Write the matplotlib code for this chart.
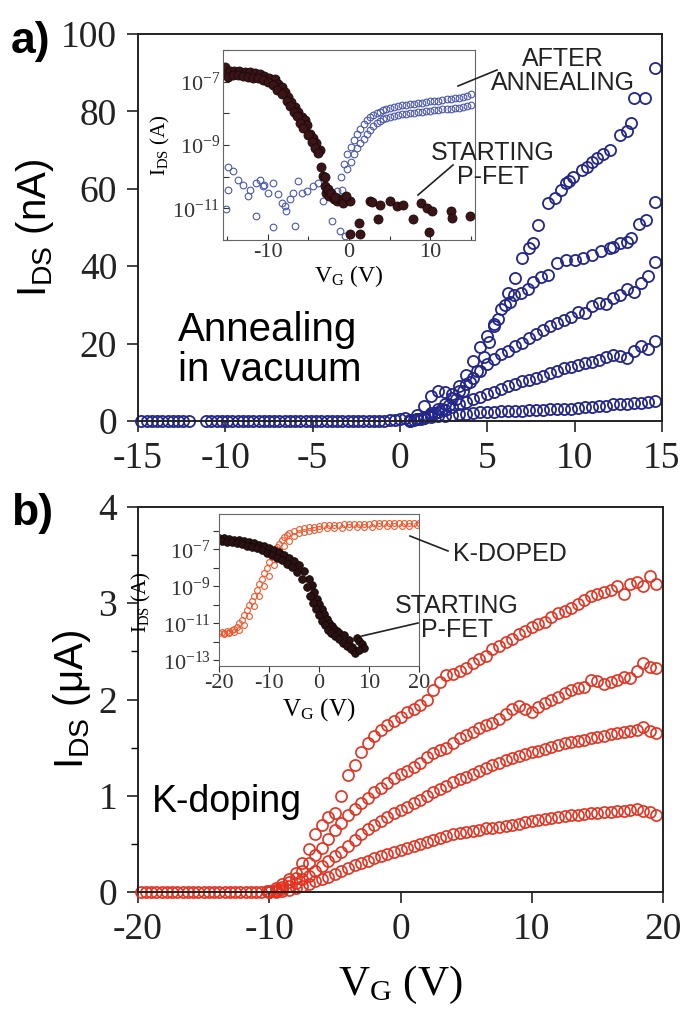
"""
Two-panel FET transfer curves (annealing / K-doping) with log-scale insets -> out.png
"""
import numpy as np
import matplotlib
matplotlib.use("Agg")
import matplotlib.pyplot as plt
from matplotlib.ticker import FixedLocator, FuncFormatter, NullFormatter
from matplotlib.lines import Line2D

plt.rcParams["font.family"] = ["Liberation Serif", "DejaVu Serif"]
plt.rcParams["mathtext.fontset"] = "custom"
plt.rcParams["mathtext.rm"] = "Liberation Serif"
plt.rcParams["axes.unicode_minus"] = False

SANS = ["Liberation Sans", "DejaVu Sans"]
W, H = 684, 1013

# ── Panel a: annealing in vacuum (nA) ────────────────────────────────────────
VA_OFF = [-14.8, -14.5, -14.2, -13.9, -13.6, -13.3, -13.0, -12.7, -12.4, -12.1,
          -11.1, -10.8, -10.5, -10.2, -9.9, -9.6, -9.3, -9.0, -8.7, -8.4,
          -8.1, -7.8, -7.5, -7.2, -6.9, -6.6, -6.3, -6.0, -5.7, -5.4,
          -5.1, -4.8, -4.5, -4.2, -3.9, -3.6, -3.3, -3.0, -2.7, -2.4,
          -2.1, -1.8, -1.5, -1.2, -0.9, -0.6, -0.3, 0.0, 0.3]
IA_OFF = [0.0, 0.1, 0.0, 0.0, 0.1, 0.0, 0.0, 0.1, 0.0, 0.0,
          0.0, 0.0, 0.1, 0.0, 0.0, 0.0, 0.1, 0.0, 0.0, 0.0,
          0.1, 0.0, 0.0, 0.0, 0.0, 0.1, 0.0, 0.0, 0.0, 0.1,
          0.0, 0.0, 0.0, 0.1, 0.0, 0.0, 0.0, 0.0, 0.1, 0.0,
          0.0, 0.1, 0.0, 0.0, 0.1, 0.2, 0.3, 0.5, 0.8]

VA1 = [0.6, 1.0, 1.4, 1.8, 2.2, 2.6, 3.0, 3.4, 3.8, 4.2,
       4.6, 5.0, 5.4, 5.8, 6.2, 6.6, 7.0, 7.4, 7.6, 7.9,
       8.5, 8.9, 9.2, 9.5, 9.7, 9.9, 10.4, 10.7, 11.0, 11.3,
       11.6, 12.0, 12.6, 13.0, 13.2, 13.4, 14.0, 14.6]
IA1 = [0.3, 1.5, 4.0, 6.5, 7.8, 7.5, 7.0, 9.0, 12.0, 15.5,
       19.0, 22.0, 25.0, 29.0, 33.0, 37.0, 42.0, 44.7, 46.0, 50.6,
       56.3, 57.6, 59.7, 61.5, 62.0, 63.0, 64.8, 65.6, 67.0, 68.0,
       69.0, 70.0, 74.0, 75.0, 77.0, 83.5, 83.5, 91.2]

VA2 = [0.8, 1.2, 1.6, 2.0, 2.4, 2.8, 3.2, 3.6, 4.0, 4.4,
       4.8, 5.1, 5.4, 5.6, 6.0, 6.3, 6.5, 6.9, 7.3, 7.6,
       8.1, 8.5, 9.0, 9.5, 10.0, 10.5, 11.0, 11.5, 12.0, 12.2,
       12.6, 13.0, 13.2, 13.7, 14.1, 14.6]
IA2 = [0.2, 0.6, 1.2, 2.0, 3.0, 4.2, 5.8, 7.8, 10.0, 13.0,
       16.5, 20.5, 24.6, 26.4, 29.9, 30.7, 32.5, 33.0, 34.0, 36.0,
       37.3, 37.7, 40.8, 41.6, 41.6, 42.0, 43.0, 44.0, 44.7, 45.0,
       46.0, 46.3, 47.3, 51.0, 52.0, 56.6]

VA_GRID = [0.6, 1.0, 1.4, 1.8, 2.2, 2.6, 3.0, 3.4, 3.8, 4.2,
           4.6, 5.0, 5.4, 5.8, 6.2, 6.6, 7.0, 7.4, 7.8, 8.2,
           8.6, 9.0, 9.4, 9.8, 10.2, 10.6, 11.0, 11.4, 11.8, 12.2,
           12.6, 13.0, 13.4, 13.8, 14.2, 14.6]
IA3 = [0.1, 0.4, 1.0, 2.0, 3.2, 4.5, 6.0, 7.8, 9.6, 11.2,
       13.0, 14.6, 16.0, 17.2, 18.2, 19.4, 20.2, 21.5, 22.4, 23.5,
       24.6, 25.4, 26.0, 27.0, 28.2, 28.0, 29.6, 30.5, 30.2, 31.8,
       32.6, 34.0, 33.4, 35.6, 37.5, 41.0]
IA4 = [0.1, 0.4, 0.9, 1.5, 2.2, 2.9, 3.6, 4.3, 5.0, 5.6,
       6.3, 7.0, 7.6, 8.3, 9.0, 9.6, 10.3, 10.6, 11.2, 11.6,
       12.3, 12.8, 13.6, 14.0, 14.4, 15.0, 15.3, 15.7, 16.5, 17.0,
       16.8, 16.4, 18.0, 19.4, 18.6, 20.8]
IA5 = [0.2, 0.5, 0.8, 1.0, 1.2, 1.4, 1.5, 1.7, 1.8, 2.0,
       2.2, 2.3, 2.4, 2.5, 2.5, 2.7, 2.7, 2.8, 2.9, 2.9,
       3.0, 3.1, 3.2, 3.2, 3.4, 3.5, 3.6, 3.8, 4.0, 4.3,
       4.4, 4.5, 4.6, 4.7, 4.8, 5.2]

# inset a (log10 of I in A)
PA_V = [-15.3, -15.1, -14.7, -14.1, -13.5, -12.8, -12.2, -11.6, -11.0, -10.4,
        -9.8, -9.1, -8.7, -8.3, -7.9, -7.5, -7.1, -6.7, -6.3, -5.8,
        -5.4, -5.2, -4.8, -4.4, -4.0, -3.6, -3.4, -3.2, -3.0, -2.8,
        -2.4, -1.9, -1.5, -1.1, -0.7, 0.1, 0.1, 1.2, 1.4, 2.6,
        2.8, 3.6, 3.8, 5.1, 5.9, 6.7, 7.9, 8.8, 9.6, 9.9,
        10.2, 12.5, 12.7, 14.9,
        -14.9, -14.3, -13.7, -13.0, -12.4, -11.8, -11.2, -10.6, -10.0, -9.4,
        -8.8, -8.2, -7.6, -7.2, -6.8, -6.4, -6.0, -5.6, -5.0, -4.6,
        -4.2, -3.8, -3.0, -2.6, -2.2, -1.7, -0.4]
PA_LOG = [-6.55, -6.76, -6.66, -6.66, -6.66, -6.71, -6.71, -6.74, -6.76, -6.81,
          -6.87, -6.92, -7.07, -7.18, -7.33, -7.49, -7.65, -7.80, -7.96, -8.12,
          -8.22, -8.38, -8.64, -8.79, -8.95, -9.16, -9.68, -9.99, -10.30, -10.51,
          -10.62, -10.72, -10.77, -10.72, -10.82, -10.77, -11.81, -11.45, -11.81, -10.77,
          -10.80, -11.34, -10.88, -10.77, -10.93, -10.88, -11.34, -10.82, -10.98, -11.76,
          -11.08, -11.08, -11.29, -11.24,
          -6.85, -6.80, -6.80, -6.82, -6.85, -6.88, -6.90, -6.95, -7.00, -7.10,
          -7.25, -7.40, -7.60, -7.78, -7.95, -8.10, -8.30, -8.45, -8.70, -8.90,
          -9.10, -9.25, -10.00, -10.40, -10.50, -10.65, -10.60]

AA_V = [-14.9, -14.3, -13.7, -13.1, -12.4, -14.9, -15.1, -12.2, -11.4, -11.0,
        -10.6, -10.4, -10.0, -9.3, -8.7, -8.3, -7.9, -7.7, -7.3, -6.9,
        -6.3, -5.8, -5.2, -4.4, -3.8, -3.2, -2.4, -1.5, -0.9, -11.4,
        -9.3, -6.7, -2.1, -1.1, -0.5,
        -1.0, -0.6, -0.2, 0.2, 0.6, 1.0, 1.4, 1.8, 2.2, 2.6,
        3.0, 3.4, 3.8, 4.2, 4.6, 5.0, 5.5, 6.0, 6.5, 7.0,
        7.5, 8.0, 8.5, 9.0, 9.5, 10.0, 10.5, 11.0, 11.5, 12.0,
        12.5, 13.0, 13.5, 14.0, 14.5, 15.0,
        -0.2, 0.2, 0.6, 1.0, 1.4, 1.8, 2.2, 2.6, 3.0, 3.4,
        3.8, 4.2, 4.6, 5.0, 5.5, 6.0, 6.5, 7.0, 7.5, 8.0,
        8.5, 9.0, 9.5, 10.0, 10.5, 11.0, 11.5, 12.0, 12.5, 13.0,
        13.5, 14.0, 14.5, 15.0]
AA_LOG = [-9.68, -9.83, -10.09, -10.25, -10.62, -10.41, -11.03, -10.41, -10.20, -10.09,
          -10.30, -10.25, -10.51, -10.20, -10.56, -10.82, -10.93, -11.08, -10.72, -10.51,
          -10.15, -10.51, -10.46, -10.30, -10.20, -10.77, -10.51, -10.46, -10.41, -11.24,
          -11.60, -11.55, -11.39, -11.70, -11.87,
          -10.00, -9.60, -9.30, -9.05, -8.85, -8.65, -8.50, -8.35, -8.22, -8.12,
          -8.05, -8.00, -7.95, -7.90, -7.86, -7.82, -7.80, -7.77, -7.75, -7.73,
          -7.70, -7.69, -7.67, -7.66, -7.64, -7.62, -7.61, -7.60, -7.58, -7.56,
          -7.55, -7.53, -7.52, -7.50, -7.45, -7.38,
          -9.75, -9.55, -9.30, -9.10, -8.95, -8.80, -8.65, -8.52, -8.40, -8.30,
          -8.24, -8.19, -8.15, -8.12, -8.09, -8.06, -8.03, -8.01, -7.99, -7.98,
          -7.96, -7.95, -7.93, -7.92, -7.90, -7.89, -7.87, -7.86, -7.85, -7.83,
          -7.82, -7.80, -7.77, -7.75]

# ── Panel b: K-doping (uA) ───────────────────────────────────────────────────
VB_OFF = [-19.8, -19.4, -19.0, -18.6, -18.2, -17.8, -17.4, -17.0, -16.6, -16.2,
          -15.8, -15.4, -15.0, -14.6, -14.2, -13.8, -13.4, -13.0, -12.6, -12.2,
          -11.8, -11.4, -11.0, -10.6, -10.2]
IB_OFF = [0.0, 0.0, 0.0, 0.0, 0.0, 0.0, 0.0, 0.0, 0.0, 0.0,
          0.0, 0.0, 0.0, 0.0, 0.0, 0.0, 0.0, 0.0, 0.0, 0.0,
          0.0, 0.0, 0.0, 0.0, 0.01]

VB = [-10.0, -9.5, -9.0, -8.5, -8.0, -7.5, -7.0, -6.5, -6.0, -5.5,
      -5.0, -4.5, -4.0, -3.5, -3.0, -2.5, -2.0, -1.5, -1.0, -0.5,
      0.0, 0.5, 1.0, 1.5, 2.0, 2.5, 3.0, 3.5, 4.0, 4.5,
      5.0, 5.5, 6.0, 6.5, 7.0, 7.5, 8.0, 8.5, 9.0, 9.5,
      10.0, 10.5, 11.0, 11.5, 12.0, 12.5, 13.0, 13.5, 14.0, 14.5,
      15.0, 15.5, 16.0, 16.5, 17.0, 17.5, 18.0, 18.5, 19.0, 19.5]
IB1 = [0.01, 0.04, 0.08, 0.14, 0.20, 0.30, 0.45, 0.60, 0.70, 0.78,
       0.82, 1.00, 1.22, 1.32, 1.45, 1.55, 1.62, 1.68, 1.74, 1.78,
       1.82, 1.87, 1.90, 1.94, 2.00, 2.10, 2.18, 2.25, 2.27, 2.30,
       2.33, 2.38, 2.42, 2.45, 2.52, 2.56, 2.60, 2.63, 2.68, 2.71,
       2.75, 2.78, 2.81, 2.86, 2.90, 2.92, 2.95, 2.99, 3.03, 3.08,
       3.10, 3.12, 3.14, 3.18, 3.10, 3.20, 3.22, 3.18, 3.28, 3.20]
IB2 = [0.00, 0.02, 0.05, 0.10, 0.15, 0.22, 0.30, 0.38, 0.46, 0.55,
       0.64, 0.72, 0.80, 0.86, 0.92, 0.98, 1.04, 1.08, 1.13, 1.18,
       1.23, 1.26, 1.30, 1.34, 1.40, 1.44, 1.48, 1.50, 1.55, 1.60,
       1.63, 1.66, 1.70, 1.73, 1.76, 1.80, 1.85, 1.90, 1.93, 1.90,
       1.87, 1.92, 1.96, 2.00, 2.03, 2.07, 2.10, 2.12, 2.13, 2.20,
       2.19, 2.16, 2.18, 2.20, 2.23, 2.22, 2.30, 2.38, 2.34, 2.33]
IB3 = [0.00, 0.01, 0.03, 0.06, 0.09, 0.13, 0.17, 0.22, 0.27, 0.32,
       0.37, 0.42, 0.48, 0.54, 0.60, 0.65, 0.70, 0.74, 0.78, 0.82,
       0.85, 0.88, 0.92, 0.96, 1.00, 1.04, 1.07, 1.10, 1.14, 1.17,
       1.20, 1.23, 1.26, 1.29, 1.32, 1.34, 1.37, 1.39, 1.41, 1.43,
       1.45, 1.47, 1.49, 1.51, 1.53, 1.55, 1.56, 1.57, 1.58, 1.60,
       1.61, 1.62, 1.64, 1.65, 1.66, 1.67, 1.68, 1.71, 1.67, 1.65]
IB4 = [0.00, 0.00, 0.01, 0.02, 0.04, 0.06, 0.08, 0.11, 0.13, 0.16,
       0.19, 0.22, 0.25, 0.28, 0.30, 0.32, 0.35, 0.37, 0.40, 0.42,
       0.44, 0.46, 0.48, 0.50, 0.52, 0.54, 0.56, 0.58, 0.60, 0.61,
       0.62, 0.63, 0.64, 0.66, 0.67, 0.68, 0.69, 0.70, 0.71, 0.73,
       0.74, 0.75, 0.76, 0.77, 0.78, 0.79, 0.80, 0.80, 0.81, 0.82,
       0.82, 0.83, 0.83, 0.84, 0.84, 0.85, 0.86, 0.84, 0.83, 0.80]

# inset b (log10 of I in A)
KB_V = [-20.0, -19.5, -19.0, -18.5, -18.0, -17.5, -17.0, -16.5, -16.0, -15.5,
        -15.0, -14.5, -14.0, -13.5, -13.0, -12.5, -12.0, -11.5, -11.0, -10.5,
        -10.0, -9.5, -9.0, -8.5, -8.0, -7.5, -7.0, -6.5, -6.0, -5.0,
        -4.0, -3.0, -2.0, -1.0, 0.0, 1.0, 2.0, 3.0, 4.0, 5.0,
        6.0, 7.0, 8.0, 9.0, 10.0, 11.0, 12.0, 13.0, 14.0, 15.0,
        16.0, 17.0, 18.0, 19.0, 20.0,
        -19.0, -18.0, -17.0, -16.0, -15.0, -14.0, -13.0, -12.0, -11.0, -10.0,
        -9.0, -8.0, -7.0, -6.0, -5.0, -4.0, -3.0, -2.0, -1.0, 0.0,
        1.5, 3.0, 4.5, 6.0, 7.5, 9.0, 10.5, 12.0, 13.5, 15.0,
        16.5, 18.0, 19.5]
KB_LOG = [-11.50, -11.45, -11.50, -11.40, -11.45, -11.35, -11.30, -11.20, -11.00, -10.80,
          -10.55, -10.30, -10.00, -9.80, -9.50, -9.20, -8.90, -8.60, -8.30, -8.00,
          -7.70, -7.40, -7.10, -6.90, -6.70, -6.50, -6.35, -6.25, -6.15, -6.00,
          -5.90, -5.85, -5.80, -5.78, -5.75, -5.72, -5.70, -5.68, -5.67, -5.66,
          -5.65, -5.64, -5.63, -5.62, -5.62, -5.61, -5.60, -5.60, -5.60, -5.59,
          -5.59, -5.58, -5.58, -5.58, -5.57,
          -11.55, -11.50, -11.45, -11.35, -11.10, -10.60, -10.05, -9.55, -9.00, -8.45,
          -7.85, -7.30, -6.85, -6.55, -6.30, -6.15, -6.05, -6.00, -5.95, -5.92,
          -5.88, -5.85, -5.83, -5.81, -5.80, -5.79, -5.78, -5.77, -5.76, -5.75,
          -5.74, -5.73, -5.72]

PB_V = [-20.0, -19.0, -18.0, -17.0, -16.0, -15.0, -14.0, -13.0, -12.0, -11.0,
        -10.0, -9.0, -8.0, -7.0, -6.0, -5.0, -4.0, -3.0, -2.0, -1.5,
        -1.0, -0.5, 0.0, 0.5, 1.0, 1.5, 2.0, 2.5, 3.0, 3.5,
        4.0, 5.0, 6.0, 6.5, 7.0, 7.5, 8.0, 8.5, 9.0,
        -19.5, -18.5, -17.5, -16.5, -15.5, -14.5, -13.5, -12.5, -11.5, -10.5,
        -9.5, -8.5, -7.5, -6.5, -5.5, -4.5, -3.5, -2.5, -1.8, -1.2,
        -0.6, 0.0, 0.6, 1.2, 1.8, 2.4, 3.2, 4.0, 4.8, 5.6, 6.4, 7.2, 8.0]
PB_LOG = [-6.40, -6.42, -6.45, -6.48, -6.50, -6.55, -6.60, -6.65, -6.75, -6.85,
          -6.95, -7.05, -7.15, -7.30, -7.45, -7.62, -7.85, -8.20, -8.60, -8.95,
          -9.30, -9.70, -9.95, -10.20, -10.50, -10.75, -11.00, -11.15, -11.30, -11.40,
          -11.50, -11.65, -11.90, -12.30, -12.50, -11.80, -11.95, -12.10, -12.35,
          -6.55, -6.60, -6.62, -6.68, -6.72, -6.80, -6.88, -6.95, -7.05, -7.18,
          -7.30, -7.45, -7.60, -7.78, -7.98, -8.25, -8.60, -9.05, -9.50, -9.90,
          -10.25, -10.55, -10.85, -11.10, -11.35, -11.50, -11.70, -11.85, -12.05, -12.20,
          -12.40, -12.60, -12.45]

NAVY = "#23268a"
BLUE_IN = "#4b58b0"
RED = "#e5311f"
RED_IN = "#f0582e"
DARK = "#3a1416"


def fx(px):
    return px / W


def fy(py):
    return 1 - py / H


def style_main(ax):
    for s in ax.spines.values():
        s.set_linewidth(1.4)
        s.set_color("#222222")
    ax.tick_params(which="major", direction="out", length=8, width=1.2,
                   labelsize=27, pad=7, colors="#222222")
    ax.tick_params(which="minor", direction="out", length=5, width=1.0)


def log_fmt(y, pos):
    e = int(round(np.log10(y)))
    if e % 2 == 0:
        return ""
    return r"$\mathregular{10^{%d}}$" % e


def style_inset(ax, direction, size):
    for s in ax.spines.values():
        s.set_linewidth(0.8)
        s.set_color("#666666")
    ax.set_yscale("log")
    ax.yaxis.set_major_locator(FixedLocator([10.0 ** e for e in range(-14, -3)]))
    ax.yaxis.set_major_formatter(FuncFormatter(log_fmt))
    ax.yaxis.set_minor_formatter(NullFormatter())
    ax.yaxis.set_minor_locator(FixedLocator([]))
    ax.tick_params(which="both", direction=direction, length=4, width=0.8,
                   labelsize=size, pad=2, colors="#333333")


fig = plt.figure(figsize=(W / 100, H / 100), dpi=100)

# ── main a ──
axa = fig.add_axes([fx(138), fy(421), (662 - 138) / W, (421 - 34) / H])
mk = dict(marker="o", ms=8, mfc="none", mew=1.3, ls="none", mec=NAVY)
axa.plot(VA_OFF, IA_OFF, **mk)
axa.plot(VA1, IA1, **mk)
axa.plot(VA2, IA2, **mk)
axa.plot(VA_GRID, IA3, **mk)
axa.plot(VA_GRID, IA4, **mk)
axa.plot(VA_GRID, IA5, **mk)
axa.set_xlim(-15, 15)
axa.set_ylim(0, 100)
axa.set_xticks([-15, -10, -5, 0, 5, 10, 15])
axa.set_yticks([0, 20, 40, 60, 80, 100])
style_main(axa)
for c in axa.lines:
    c.set_clip_on(False)
axa.set_ylabel(r"$\mathregular{I_{DS}}$ (nA)", family=SANS, fontsize=29)

# ── inset a ──
ina = fig.add_axes([fx(223), fy(240), (475 - 223) / W, (240 - 50) / H])
ina.plot(AA_V, [10.0 ** v for v in AA_LOG], marker="o", ms=4.8, mfc="none",
         mew=0.8, ls="none", mec=BLUE_IN)
ina.plot(PA_V, [10.0 ** v for v in PA_LOG], marker="o", ms=6.5, mfc=DARK,
         mew=0.6, ls="none", mec="#1a0808")
style_inset(ina, "in", 16)
ina.set_xlim(-15.5, 15.5)
ina.set_ylim(1e-12, 1e-6)
ina.set_xticks([-10, 0, 10])
ina.set_xticks([-15, -5, 5, 15], minor=True)
ina.tick_params(which="minor", direction="in", length=3, width=0.8)
ina.set_xlabel(r"$\mathregular{V_G}$ (V)", fontsize=17, labelpad=1)
ina.set_ylabel(r"$\mathregular{I_{DS}}$ (A)", fontsize=15, labelpad=0)

# ── main b ──
axb = fig.add_axes([fx(138), fy(892), (663 - 138) / W, (892 - 507) / H])
mk = dict(marker="o", ms=8, mfc="none", mew=1.2, ls="none", mec=RED)
axb.plot(VB_OFF, IB_OFF, **mk)
axb.plot(VB, IB1, **mk)
axb.plot(VB, IB2, **mk)
axb.plot(VB, IB3, **mk)
axb.plot(VB, IB4, **mk)
axb.set_xlim(-20, 20)
axb.set_ylim(0, 4)
axb.set_xticks([-20, -10, 0, 10, 20])
axb.set_yticks([0, 1, 2, 3, 4])
axb.set_yticks([0.5, 1.5, 2.5, 3.5], minor=True)
style_main(axb)
for c in axb.lines:
    c.set_clip_on(False)
axb.set_ylabel(r"$\mathregular{I_{DS}}$ ($\mathregular{\mu}$A)", family=SANS, fontsize=29)
axb.set_xlabel(r"$\mathregular{V_G}$ (V)", fontsize=31, labelpad=12)

# ── inset b ──
inb = fig.add_axes([fx(219), fy(666), (419 - 219) / W, (666 - 514) / H])
inb.plot(KB_V, [10.0 ** v for v in KB_LOG], marker="o", ms=4.2, mfc="none",
         mew=0.8, ls="none", mec=RED_IN)
inb.plot(PB_V, [10.0 ** v for v in PB_LOG], marker="o", ms=5.5, mfc="#2a1212",
         mew=0.6, ls="none", mec="#140606")
style_inset(inb, "out", 16)
inb.set_xlim(-20, 20)
inb.set_ylim(10 ** -13.3, 10 ** -5.1)
inb.set_xticks([-20, -10, 0, 10, 20])
inb.set_xlabel(r"$\mathregular{V_G}$ (V)", fontsize=18, labelpad=2)
inb.set_ylabel(r"$\mathregular{I_{DS}}$ (A)", fontsize=15, labelpad=0)
inb.yaxis.set_label_coords(-0.33, 0.42)

# ── labels and annotations ──
fig.text(fx(11), fy(41), "a)", family=SANS, fontsize=32, fontweight="bold",
         ha="left", va="center")
fig.text(fx(11), fy(513), "b)", family=SANS, fontsize=32, fontweight="bold",
         ha="left", va="center")
fig.text(fx(178), fy(350), "Annealing\nin vacuum", family=SANS, fontsize=29,
         ha="left", va="center", linespacing=1.05)
fig.text(fx(152), fy(802), "K-doping", family=SANS, fontsize=27,
         ha="left", va="center")

ann = dict(family=SANS, fontsize=18, ha="center", va="center",
           linespacing=1.0, color="#222222")
fig.text(fx(563), fy(71), "AFTER\nANNEALING", **ann)
fig.text(fx(493), fy(165), "STARTING\nP-FET", **ann)
fig.text(fx(457), fy(618), "STARTING\nP-FET", **ann)
fig.text(fx(453), fy(554), "K-DOPED", family=SANS, fontsize=18, ha="left",
         va="center", color="#222222")

for (x0, y0, x1, y1) in [(497, 70, 458, 86), (453, 165, 418, 195),
                         (448, 551, 410, 536), (418, 623, 362, 636)]:
    fig.add_artist(Line2D([fx(x0), fx(x1)], [fy(y0), fy(y1)],
                          transform=fig.transFigure, color="#222222", lw=1.2))

fig.savefig("out.png", dpi=100)
